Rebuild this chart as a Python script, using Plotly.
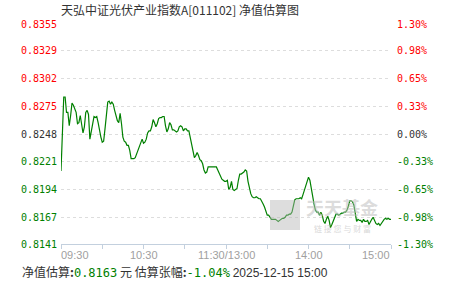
import plotly.graph_objects as go

TITLE = "天弘中证光伏产业指数A[011102] 净值估算图"
BASE_NAV = 0.8248
Y_TICKS = [0.8355, 0.8329, 0.8302, 0.8275, 0.8248, 0.8221, 0.8194, 0.8167, 0.8141]
PCT_LABELS = ["1.30%", "0.98%", "0.65%", "0.33%", "0.00%", "-0.33%", "-0.65%", "-0.98%", "-1.30%"]
X_TICK_LABELS = ["09:30", "", "10:30", "", "11:30/13:00", "", "14:00", "", "15:00"]

# morning session 09:30-11:30 (one value per minute)
AM_NAV = [
    0.8212, 0.8257, 0.8284, 0.8284, 0.8269, 0.8269, 0.8256, 0.8266, 0.8278, 0.8276,
    0.8272, 0.8269, 0.8258, 0.8259, 0.8266, 0.8255, 0.8249, 0.8255, 0.8269, 0.8271,
    0.8267, 0.8243, 0.8251, 0.8261, 0.8265, 0.8264, 0.8265, 0.8259, 0.8251, 0.8245,
    0.8240, 0.8241, 0.8253, 0.8265, 0.8279, 0.8280, 0.8277, 0.8279, 0.8277, 0.8271,
    0.8265, 0.8261, 0.8259, 0.8268, 0.8258, 0.8245, 0.8241, 0.8240, 0.8237, 0.8237,
    0.8232, 0.8224, 0.8224, 0.8224, 0.8225, 0.8229, 0.8232, 0.8237, 0.8241, 0.8243,
    0.8239, 0.8240, 0.8243, 0.8249, 0.8251, 0.8251, 0.8255, 0.8262, 0.8259, 0.8255,
    0.8258, 0.8263, 0.8264, 0.8264, 0.8265, 0.8265, 0.8256, 0.8250, 0.8253, 0.8259,
    0.8257, 0.8252, 0.8252, 0.8251, 0.8250, 0.8251, 0.8255, 0.8256, 0.8255, 0.8251,
    0.8253, 0.8253, 0.8251, 0.8251, 0.8244, 0.8238, 0.8233, 0.8225, 0.8227, 0.8230,
    0.8227, 0.8223, 0.8222, 0.8219, 0.8213, 0.8210, 0.8211, 0.8216, 0.8216, 0.8216,
    0.8216, 0.8216, 0.8216, 0.8216, 0.8213, 0.8210, 0.8208, 0.8204, 0.8203, 0.8202,
    0.8202,
]
# afternoon session 13:01-15:00
PM_NAV = [
    0.8203, 0.8194, 0.8196, 0.8202, 0.8194, 0.8193, 0.8194, 0.8195, 0.8203, 0.8209,
    0.8209, 0.8210, 0.8211, 0.8213, 0.8212, 0.8202, 0.8194, 0.8190, 0.8187, 0.8186,
    0.8186, 0.8187, 0.8186, 0.8185, 0.8185, 0.8183, 0.8180, 0.8177, 0.8173, 0.8169,
    0.8169, 0.8167, 0.8165, 0.8165, 0.8165, 0.8165, 0.8164, 0.8163, 0.8164, 0.8165,
    0.8166, 0.8166, 0.8167, 0.8169, 0.8169, 0.8170, 0.8170, 0.8172, 0.8180, 0.8184,
    0.8185, 0.8185, 0.8185, 0.8186, 0.8185, 0.8189, 0.8193, 0.8196, 0.8200, 0.8206,
    0.8203, 0.8195, 0.8185, 0.8180, 0.8174, 0.8172, 0.8172, 0.8169, 0.8172, 0.8169,
    0.8163, 0.8161, 0.8165, 0.8168, 0.8164, 0.8157, 0.8160, 0.8164, 0.8167, 0.8170,
    0.8170, 0.8169, 0.8170, 0.8171, 0.8171, 0.8172, 0.8172, 0.8174, 0.8178, 0.8183,
    0.8183, 0.8182, 0.8179, 0.8171, 0.8163, 0.8165, 0.8164, 0.8164, 0.8162, 0.8165,
    0.8163, 0.8163, 0.8164, 0.8160, 0.8163, 0.8165, 0.8167, 0.8164, 0.8161, 0.8160,
    0.8161, 0.8159, 0.8161, 0.8164, 0.8165, 0.8166, 0.8165, 0.8166, 0.8165, 0.8165,
]
EST_NAV = "0.8163"
EST_PCT = "-1.04%"
EST_TIME = "2025-12-15 15:00"

RED = "#ff0000"
GREEN = "#008000"
DARK = "#333333"
MONO = "DejaVu Sans Mono"
CJK = "Noto Sans CJK SC"

nav = AM_NAV + PM_NAV
xs = list(range(len(nav)))
n_min = len(nav) - 1
tick_pos = [i * n_min / (len(X_TICK_LABELS) - 1) for i in range(len(X_TICK_LABELS))]

fig = go.Figure()
fig.add_trace(go.Scatter(x=xs, y=nav, mode="lines",
                         line=dict(color=GREEN, width=1.2), hoverinfo="skip"))
fig.add_hline(y=BASE_NAV, line=dict(color="#999999", width=1.6), layer="below")

ann = []
for v, p in zip(Y_TICKS, PCT_LABELS):
    if v > BASE_NAV:
        c = RED
    elif v < BASE_NAV:
        c = GREEN
    else:
        c = DARK
    ann.append(dict(x=0, xref="paper", y=v, yref="y", text=f"{v:.4f}", showarrow=False,
                    xanchor="right", yanchor="middle", xshift=-2,
                    font=dict(family=MONO, size=10, color=c)))
    ann.append(dict(x=1, xref="paper", y=v, yref="y", text=p, showarrow=False,
                    xanchor="left", yanchor="middle", xshift=4,
                    font=dict(family=MONO, size=10, color=c)))

for i, (pos, lab) in enumerate(zip(tick_pos, X_TICK_LABELS)):
    if not lab:
        continue
    if i == 0:
        xa, xsft = "left", -2
    elif i == len(X_TICK_LABELS) - 1:
        xa, xsft = "right", 1
    else:
        xa, xsft = "center", 0
    ann.append(dict(x=pos, xref="x", y=-0.05, yref="paper", text=lab, showarrow=False,
                    xanchor=xa, yanchor="middle", xshift=xsft,
                    font=dict(family="Liberation Sans, Arial", size=11, color="#a0a0a0")))

bottom = (f'净值估算<b>:</b><span style="color:{GREEN};font-family:{MONO}">{EST_NAV}</span>'
          f' 元 估算张幅<b>:</b><span style="color:{GREEN};font-family:{MONO}">{EST_PCT}</span>'
          f' <span style="font-family:Liberation Sans, Arial">{EST_TIME}</span>')
ann.append(dict(x=-41 / 330, xref="paper", y=-27 / 220, yref="paper", text=bottom,
                showarrow=False, xanchor="left", yanchor="middle",
                font=dict(family=CJK, size=12, color=DARK)))

# watermark
ann.append(dict(x=(342 - 61) / 330, xref="paper", y=(244 - 207) / 220, yref="paper",
                text="<b>天天基金</b>", showarrow=False, xanchor="center", yanchor="middle",
                font=dict(family=CJK, size=18, color="rgba(190,190,190,0.55)")))
ann.append(dict(x=(342 - 61) / 330, xref="paper", y=(244 - 228) / 220, yref="paper",
                text="链 接 您 与 财 富", showarrow=False, xanchor="center", yanchor="middle",
                font=dict(family=CJK, size=8, color="rgba(190,190,190,0.6)")))

shapes = [dict(type="rect", xref="paper", yref="paper",
               x0=(270 - 61) / 330, x1=(300 - 61) / 330,
               y0=(244 - 230) / 220, y1=(244 - 200) / 220,
               fillcolor="rgba(180,180,180,0.45)", line=dict(width=0), layer="above")]

fig.update_layout(
    width=451, height=281,
    margin=dict(l=61, r=60, t=24, b=37),
    paper_bgcolor="white", plot_bgcolor="white",
    showlegend=False,
    title=dict(text=TITLE, x=180 / 451, xanchor="center", y=1 - 11 / 281, yanchor="middle",
               font=dict(family=CJK, size=12, color=DARK)),
    xaxis=dict(range=[0, n_min], tickvals=tick_pos, showticklabels=False,
               showgrid=False, zeroline=False, showline=True, linecolor="#c3d0de",
               linewidth=1, ticks="outside", ticklen=4, tickcolor="#c3d0de", fixedrange=True),
    yaxis=dict(range=[Y_TICKS[-1], Y_TICKS[0]], tickvals=Y_TICKS, showticklabels=False,
               showgrid=True, gridcolor="#dddddd", griddash="dot", gridwidth=1,
               zeroline=False, showline=False, ticks="", fixedrange=True),
    annotations=ann,
    shapes=shapes,
)

fig.write_html("out.html")
